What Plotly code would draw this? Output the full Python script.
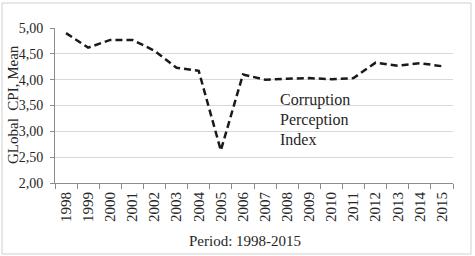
import plotly.graph_objects as go

years = ["1998", "1999", "2000", "2001", "2002", "2003", "2004", "2005", "2006",
         "2007", "2008", "2009", "2010", "2011", "2012", "2013", "2014", "2015"]
cpi_mean = [4.90, 4.62, 4.77, 4.77, 4.56, 4.23, 4.17, 2.63, 4.10,
            4.00, 4.02, 4.03, 4.01, 4.03, 4.33, 4.27, 4.32, 4.26]
y_ticks = [2.0, 2.5, 3.0, 3.5, 4.0, 4.5, 5.0]

FONT = "Liberation Serif, Times New Roman, serif"
TXT = "#262626"
L, R, T, B = 55, 22, 28, 73
W, H = 475, 256
pw, ph = W - L - R, H - T - B

def px_x(x):
    return (x - L) / pw

def px_y(y):
    return (H - B - y) / ph

fig = go.Figure()
fig.add_trace(go.Scatter(
    x=years, y=cpi_mean, mode="lines",
    line=dict(color="#1a1a1a", width=2.5, dash="7px,4px"),
    showlegend=False, hoverinfo="skip"))

fig.update_layout(
    width=W, height=H,
    margin=dict(l=L, r=R, t=T, b=B),
    paper_bgcolor="white", plot_bgcolor="white",
    separators=", ",
    font=dict(family=FONT, size=14, color=TXT),
    xaxis=dict(type="category", range=[-0.5, 17.5], tickangle=-90,
               tickson="boundaries", ticks="outside", ticklen=5, tickcolor="#8c8c8c",
               ticklabelstandoff=2,
               showline=True, linecolor="#8c8c8c", linewidth=1,
               showgrid=False, tickfont=dict(size=15, family=FONT, color=TXT)),
    yaxis=dict(range=[2, 5], tickvals=y_ticks, tickformat=".2f",
               ticks="outside", ticklen=4, tickcolor="#8c8c8c",
               ticklabelstandoff=4,
               showline=True, linecolor="#8c8c8c", linewidth=1,
               showgrid=True, gridcolor="#d9d9d9", gridwidth=1,
               zeroline=False, tickfont=dict(size=14, family=FONT, color=TXT)),
)

# gap in the 3.50 gridline behind the label
fig.add_shape(type="rect", xref="paper", yref="y",
              x0=px_x(268), x1=px_x(407), y0=3.47, y1=3.53,
              fillcolor="white", line=dict(width=0), layer="between")

# outer chart border
fig.add_shape(type="rect", xref="paper", yref="paper",
              x0=px_x(2), x1=px_x(471), y0=px_y(254), y1=px_y(3),
              line=dict(color="#d0d0d0", width=1), fillcolor="rgba(0,0,0,0)")

for label, ypx in [("Corruption", 100), ("Perception", 120), ("Index", 139)]:
    fig.add_annotation(xref="paper", yref="paper", x=px_x(278), y=px_y(ypx),
                       xanchor="left", yanchor="middle", align="left", showarrow=False,
                       text=label, font=dict(size=16, family=FONT, color=TXT))

# axis titles
fig.add_annotation(xref="paper", yref="paper", x=px_x(13), y=px_y(105),
                   xanchor="center", yanchor="middle", textangle=-90, showarrow=False,
                   text="GLobal  CPI, Mean", font=dict(size=15, family=FONT, color=TXT))
fig.add_annotation(xref="paper", yref="paper", x=px_x(245), y=px_y(241),
                   xanchor="center", yanchor="middle", showarrow=False,
                   text="Period: 1998-2015", font=dict(size=15, family=FONT, color=TXT))

fig.write_html("out.html")
